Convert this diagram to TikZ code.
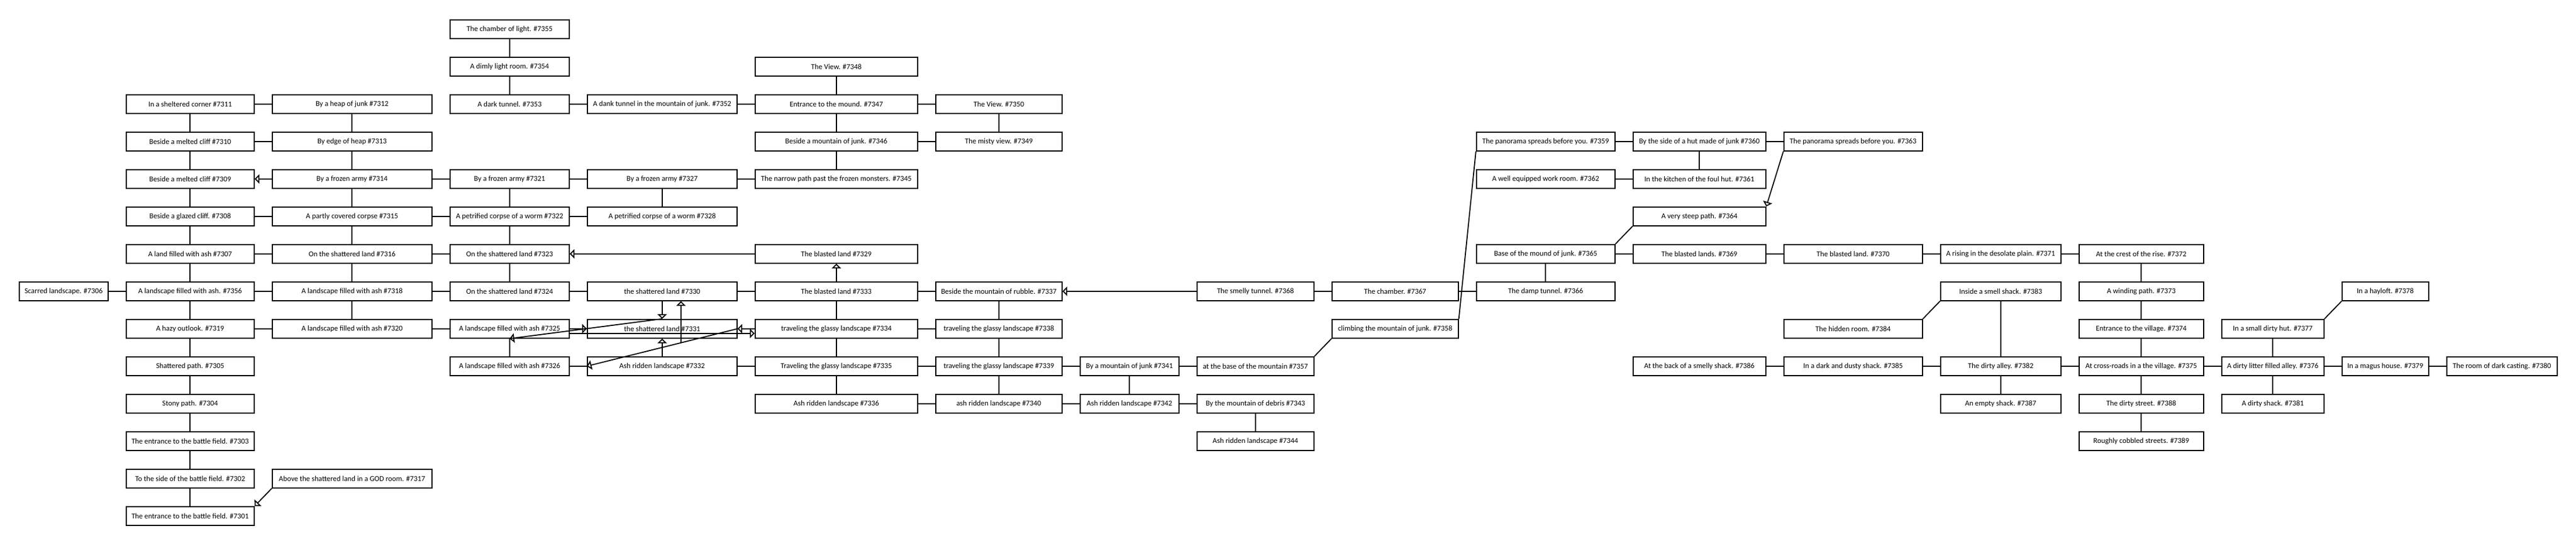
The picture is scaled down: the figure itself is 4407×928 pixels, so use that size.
\documentclass[tikz,border=0pt]{standalone}
\usepackage{fontspec}
\setmainfont{Carlito}
\usetikzlibrary{matrix,calc,arrows.meta}

\begin{document}
\begin{tikzpicture}[
room/.style={
  draw,
  rectangle,
  minimum height=32pt,
  inner sep=2pt,
  anchor=center,
  font=\fontsize{12.8pt}{14pt}\selectfont
  },
map/.style={
  matrix of nodes,
  nodes={room},
  inner sep=0pt,
  column sep=29.2pt,
  row sep=30.2pt,
  column 1/.style={nodes={minimum width=152pt}},
  column 2/.style={nodes={minimum width=219pt}},
  column 3/.style={nodes={minimum width=273pt}},
  column 4/.style={nodes={minimum width=204pt}},
  column 5/.style={nodes={minimum width=256pt}},
  column 6/.style={nodes={minimum width=278pt}},
  column 7/.style={nodes={minimum width=216pt}},
  column 8/.style={nodes={minimum width=169pt}},
  column 9/.style={nodes={minimum width=200pt}},
  column 10/.style={nodes={minimum width=216pt}},
  column 11/.style={nodes={minimum width=237pt}},
  column 12/.style={nodes={minimum width=227pt}},
  column 13/.style={nodes={minimum width=237pt}},
  column 14/.style={nodes={minimum width=206pt}},
  column 15/.style={nodes={minimum width=213pt}},
  column 16/.style={nodes={minimum width=175pt}},
  column 17/.style={nodes={minimum width=148pt}},
  column 18/.style={nodes={minimum width=189pt}}
  },
line width=1.8pt,
>={Triangle[open,length=8pt,width=16pt]}
]
\useasboundingbox (0,0) rectangle (4407pt,-928pt);
\matrix[map, anchor=north west] (map) at (31pt,-32pt)
{
& & & The chamber of light. \#7355 \\
& & & A dimly light room. \#7354 & & The View. \#7348 \\
& In a sheltered corner \#7311 & By a heap of junk \#7312 & A dark tunnel. \#7353 & A dank tunnel in the mountain of junk. \#7352 & Entrance to the mound. \#7347 & The View. \#7350 \\
& Beside a melted cliff \#7310 & By edge of heap \#7313 & & & Beside a mountain of junk. \#7346 & The misty view. \#7349 & & & & The panorama spreads before you. \#7359 & By the side of a hut made of junk \#7360 & The panorama spreads before you. \#7363 \\
& Beside a melted cliff \#7309 & By a frozen army \#7314 & By a frozen army \#7321 & By a frozen army \#7327 & The narrow path past the frozen monsters. \#7345 & & & & & A well equipped work room. \#7362 & In the kitchen of the foul hut. \#7361 \\
& Beside a glazed cliff. \#7308 & A partly covered corpse \#7315 & A petrified corpse of a worm \#7322 & A petrified corpse of a worm \#7328 & & & & & & & A very steep path. \#7364 \\
& A land filled with ash \#7307 & On the shattered land \#7316 & On the shattered land \#7323 & & The blasted land \#7329 & & & & & Base of the mound of junk. \#7365 & The blasted lands. \#7369 & The blasted land. \#7370 & A rising in the desolate plain. \#7371 & At the crest of the rise. \#7372 \\
Scarred landscape. \#7306 & A landscape filled with ash. \#7356 & A landscape filled with ash \#7318 & On the shattered land \#7324 & the shattered land \#7330 & The blasted land \#7333 & Beside the mountain of rubble. \#7337 & & The smelly tunnel. \#7368 & The chamber. \#7367 & The damp tunnel. \#7366 & & & Inside a smell shack. \#7383 & A winding path. \#7373 & & In a hayloft. \#7378 \\
& A hazy outlook. \#7319 & A landscape filled with ash \#7320 & A landscape filled with ash \#7325 & the shattered land \#7331 & traveling the glassy landscape \#7334 & traveling the glassy landscape \#7338 & & & climbing the mountain of junk. \#7358 & & & The hidden room. \#7384 & & Entrance to the village. \#7374 & In a small dirty hut. \#7377 \\
& Shattered path. \#7305 & & A landscape filled with ash \#7326 & Ash ridden landscape \#7332 & Traveling the glassy landscape \#7335 & traveling the glassy landscape \#7339 & By a mountain of junk \#7341 & at the base of the mountain \#7357 & & & At the back of a smelly shack. \#7386 & In a dark and dusty shack. \#7385 & The dirty alley. \#7382 & At cross-roads in a the village. \#7375 & A dirty litter filled alley. \#7376 & In a magus house. \#7379 & The room of dark casting. \#7380 \\
& Stony path. \#7304 & & & & Ash ridden landscape \#7336 & ash ridden landscape \#7340 & Ash ridden landscape \#7342 & By the mountain of debris \#7343 & & & & & An empty shack. \#7387 & The dirty street. \#7388 & A dirty shack. \#7381 \\
& The entrance to the battle field. \#7303 & & & & & & & Ash ridden landscape \#7344 & & & & & & Roughly cobbled streets. \#7389 \\
& To the side of the battle field. \#7302 & Above the shattered land in a GOD room. \#7317 \\
& The entrance to the battle field. \#7301 \\
};
% west side
\draw (map-3-2) -- (map-3-3);
\draw (map-3-2) -- (map-4-2);
\draw (map-3-3) -- (map-4-3);
\draw (map-4-2) -- (map-4-3);
\draw (map-4-2) -- (map-5-2);
\draw (map-4-3) -- (map-5-3);
\draw[->] (map-5-3) -- (map-5-2);
\draw (map-5-2) -- (map-6-2);
\draw (map-5-3) -- (map-6-3);
\draw (map-6-2) -- (map-6-3);
\draw (map-6-2) -- (map-7-2);
\draw (map-6-3) -- (map-7-3);
\draw (map-7-2) -- (map-7-3);
\draw (map-7-2) -- (map-8-2);
\draw (map-7-3) -- (map-8-3);
\draw (map-8-1) -- (map-8-2);
\draw (map-8-2) -- (map-8-3);
\draw (map-8-2) -- (map-9-2);
\draw (map-8-3) -- (map-9-3);
\draw (map-9-2) -- (map-9-3);
\draw (map-9-2) -- (map-10-2);
\draw (map-10-2) -- (map-11-2);
\draw (map-11-2) -- (map-12-2);
\draw (map-12-2) -- (map-13-2);
\draw (map-13-2) -- (map-14-2);
\draw[->] (map-13-3.south west) -- (map-14-2.north east);
\draw (map-5-3) -- (map-5-4);
\draw (map-6-3) -- (map-6-4);
\draw (map-7-3) -- (map-7-4);
\draw (map-8-3) -- (map-8-4);
\draw (map-9-3) -- (map-9-4);
% frozen army and the mound
\draw (map-1-4) -- (map-2-4);
\draw (map-2-4) -- (map-3-4);
\draw (map-3-4) -- (map-3-5);
\draw (map-3-5) -- (map-3-6);
\draw (map-2-6) -- (map-3-6);
\draw (map-3-6) -- (map-3-7);
\draw (map-3-6) -- (map-4-6);
\draw (map-3-7) -- (map-4-7);
\draw (map-4-6) -- (map-4-7);
\draw (map-4-6) -- (map-5-6);
\draw (map-5-4) -- (map-5-5);
\draw (map-5-5) -- (map-5-6);
\draw (map-5-4) -- (map-6-4);
\draw (map-5-5) -- (map-6-5);
\draw (map-6-4) -- (map-6-5);
\draw (map-6-4) -- (map-7-4);
\draw[->] (map-7-6) -- (map-7-4);
\draw (map-7-4) -- (map-8-4);
\draw (map-8-4) -- (map-8-5);
\draw (map-8-5) -- (map-8-6);
\draw[->] (map-8-6) -- (map-7-6);
% the shattered land knot
\draw[->] (map-8-5) -- (map-9-5);
\draw[->] (map-10-5) -- (map-9-5);
\draw[->] (map-9-4) -- (map-9-5);
\draw[->] (map-9-6) -- (map-9-5);
\draw[->] (map-9-5.north) -- (map-9-4.south);
\draw[->] (map-9-5.east) -- (map-10-5.west);
\coordinate (knot) at ($(map-9-5.east)!0.375!(map-10-5.west)$);
\draw[->] (knot) -- (knot |- map-8-5.south);
\draw[->] ([yshift=-8pt]map-9-4.east) -- ([yshift=-8pt]map-9-6.west);
\draw (map-9-4) -- (map-10-4);
\draw (map-10-4) -- (map-10-5);
\draw (map-10-5) -- (map-10-6);
% glassy landscape
\draw (map-8-6) -- (map-8-7);
\draw (map-8-6) -- (map-9-6);
\draw (map-8-7) -- (map-9-7);
\draw (map-9-6) -- (map-9-7);
\draw (map-9-6) -- (map-10-6);
\draw (map-9-7) -- (map-10-7);
\draw (map-10-6) -- (map-10-7);
\draw (map-10-7) -- (map-10-8);
\draw (map-10-6) -- (map-11-6);
\draw (map-10-7) -- (map-11-7);
\draw (map-10-8) -- (map-11-8);
\draw (map-11-6) -- (map-11-7);
\draw (map-11-7) -- (map-11-8);
\draw (map-10-8) -- (map-10-9);
\draw (map-11-8) -- (map-11-9);
\draw (map-11-9) -- (map-12-9);
% mountain of junk
\draw (map-10-9.north east) -- (map-9-10.south west);
\draw (map-4-11.south west) -- (map-9-10.north east);
\draw[->] (map-8-9) -- (map-8-7);
\draw (map-8-9) -- (map-8-10);
\draw (map-8-10) -- (map-8-11);
\draw (map-7-11) -- (map-8-11);
\draw (map-4-11) -- (map-4-12);
\draw (map-4-12) -- (map-4-13);
\draw (map-4-12) -- (map-5-12);
\draw (map-5-11) -- (map-5-12);
\draw[->] (map-4-13.south west) -- (map-6-12.north east);
\draw (map-7-11.north east) -- (map-6-12.south west);
\draw (map-7-11) -- (map-7-12);
\draw (map-7-12) -- (map-7-13);
\draw (map-7-13) -- (map-7-14);
\draw (map-7-14) -- (map-7-15);
% the village
\draw (map-7-15) -- (map-8-15);
\draw (map-8-15) -- (map-9-15);
\draw (map-9-15) -- (map-10-15);
\draw (map-10-15) -- (map-11-15);
\draw (map-11-15) -- (map-12-15);
\draw (map-10-14) -- (map-10-15);
\draw (map-10-15) -- (map-10-16);
\draw (map-9-16) -- (map-10-16);
\draw (map-10-16) -- (map-11-16);
\draw (map-10-16) -- (map-10-17);
\draw (map-10-17) -- (map-10-18);
\draw (map-9-16.north east) -- (map-8-17.south west);
\draw (map-8-14) -- (map-10-14);
\draw (map-10-14) -- (map-11-14);
\draw (map-10-12) -- (map-10-13);
\draw (map-10-13) -- (map-10-14);
\draw (map-9-13.north east) -- (map-8-14.south west);
\end{tikzpicture}
\end{document}
